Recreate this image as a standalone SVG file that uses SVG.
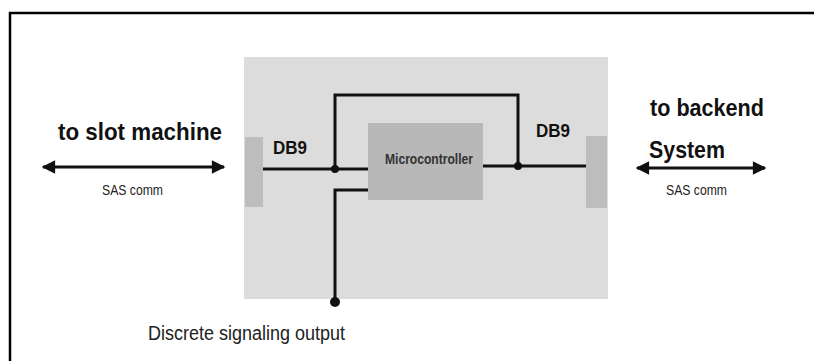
<svg xmlns="http://www.w3.org/2000/svg" width="814" height="361" viewBox="0 0 814 361">
  <style>
    .bold { font-family: "Liberation Sans", Arial, sans-serif; font-weight: bold; fill: #111; }
    .reg { font-family: "Liberation Sans", Arial, sans-serif; fill: #222; }
    .wire { stroke: #111; stroke-width: 3; fill: none; }
    .conn { fill: #bdbdbd; }
    .dot { fill: #111; }
  </style>
  <defs>
    <marker id="ah" viewBox="0 0 10 10" refX="9" refY="5" markerWidth="5.5" markerHeight="4.5" markerUnits="strokeWidth" orient="auto-start-reverse">
      <path d="M0,0 L10,5 L0,10 Z" fill="#111"/>
    </marker>
  </defs>
  <rect width="814" height="361" fill="#ffffff"/>
  <g id="frame">
    <path d="M10,361 V13 H814" fill="none" stroke="#000" stroke-width="2.5"/>
  </g>
  <g id="panel">
    <rect x="244" y="57" width="364" height="242" fill="#dcdcdc"/>
  </g>
  <g id="db9-left">
    <rect class="conn" x="245" y="137" width="18" height="70"/>
    <text class="bold" x="273" y="154" font-size="19" textLength="34" lengthAdjust="spacingAndGlyphs">DB9</text>
  </g>
  <g id="db9-right">
    <rect class="conn" x="586" y="136" width="21" height="72"/>
    <text class="bold" x="536" y="137" font-size="19" textLength="34" lengthAdjust="spacingAndGlyphs">DB9</text>
  </g>
  <g id="microcontroller">
    <rect x="368" y="123" width="115" height="77" fill="#b8b8b8"/>
    <text class="bold" x="385" y="164" font-size="14" style="fill:#333" textLength="88" lengthAdjust="spacingAndGlyphs">Microcontroller</text>
  </g>
  <g id="slot-machine">
    <text class="bold" x="58" y="140" font-size="24" textLength="164" lengthAdjust="spacingAndGlyphs">to slot machine</text>
    <text class="reg" x="102" y="195" font-size="14" textLength="61" lengthAdjust="spacingAndGlyphs">SAS comm</text>
  </g>
  <g id="backend">
    <text class="bold" x="650" y="116" font-size="24" textLength="114" lengthAdjust="spacingAndGlyphs">to backend</text>
    <text class="bold" x="649" y="158" font-size="24" textLength="76" lengthAdjust="spacingAndGlyphs">System</text>
    <text class="reg" x="666" y="195" font-size="14" textLength="61" lengthAdjust="spacingAndGlyphs">SAS comm</text>
  </g>
  <g id="discrete-output">
    <circle class="dot" cx="335" cy="302" r="5"/>
    <text class="reg" x="148" y="340" font-size="20" textLength="197" lengthAdjust="spacingAndGlyphs">Discrete signaling output</text>
  </g>
  <g id="connectors">
    <line class="wire" x1="43" y1="167" x2="224" y2="167" marker-start="url(#ah)" marker-end="url(#ah)"/>
    <line class="wire" x1="637" y1="168" x2="765" y2="168" marker-start="url(#ah)" marker-end="url(#ah)"/>
    <line class="wire" x1="263" y1="169" x2="368" y2="169"/>
    <line class="wire" x1="483" y1="166" x2="586" y2="166"/>
    <path class="wire" d="M335,169 V95 H518 V166"/>
    <path class="wire" d="M368,190 H335 V300"/>
    <circle class="dot" cx="335" cy="169" r="4"/>
    <circle class="dot" cx="518" cy="166" r="4"/>
  </g>
</svg>
